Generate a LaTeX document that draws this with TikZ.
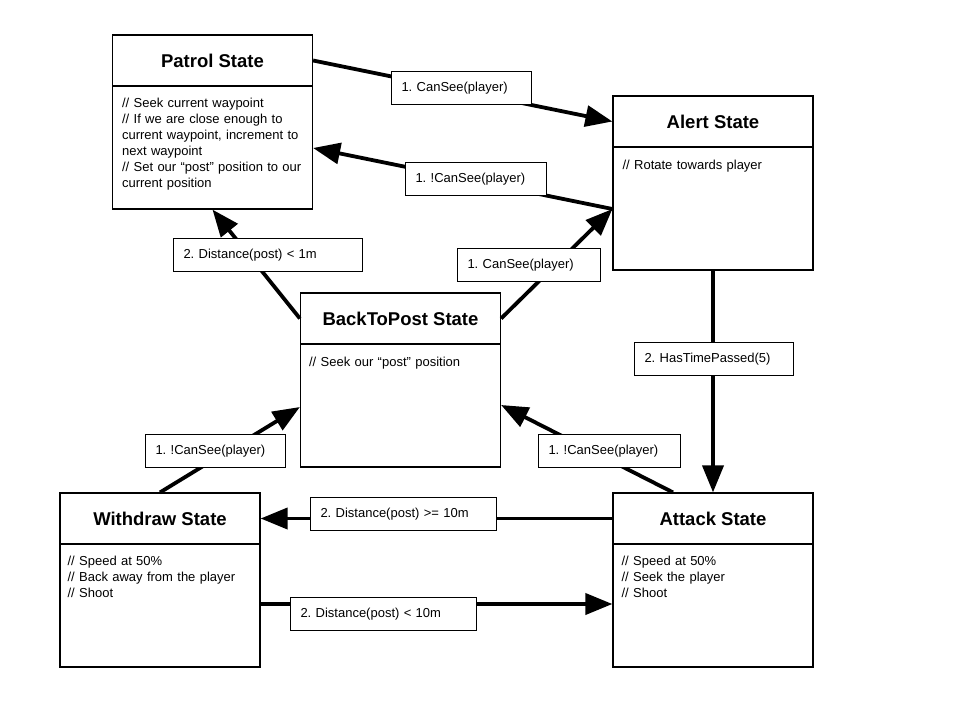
\documentclass[tikz,border=0pt]{standalone}
\usepackage{fontspec}
\setmainfont{Liberation Sans}
\usetikzlibrary{arrows.meta, positioning}
\frenchspacing

\begin{document}
\begin{tikzpicture}[
    x=1pt, y=-1pt,
    state/.style={rectangle, draw, line width=1.2pt, minimum width=200pt, minimum height=174pt, inner sep=0pt},
    head/.style={rectangle, draw, line width=1.2pt, minimum width=200pt, minimum height=51pt, inner sep=0pt, font=\fontsize{18.5}{20}\selectfont\bfseries},
    note/.style={anchor=north west, inner sep=0pt, text width=185pt, align=left, font=\fontsize{13}{16}\selectfont},
    cond/.style={rectangle, draw, fill=white, line width=1pt, anchor=north west, text width=#1, align=left, inner xsep=10pt, inner ysep=0pt, minimum height=33pt, font=\fontsize{13}{15}\selectfont},
    trans/.style={line width=3.8pt, -{Triangle[length=27pt, width=21pt]}}
]
\useasboundingbox (0,0) rectangle (960,720);

% states
\node[state] (patrol) at (212.5,122) {};
\node[head, anchor=north] (patrol-h) at (patrol.north) {Patrol State};
\node[note] (patrol-b) at ([shift={(10pt,-11pt)}]patrol-h.south west) {// Seek current waypoint\\// If we are close enough to\\current waypoint, increment to\\next waypoint\\// Set our “post” position to our\\current position};

\node[state] (alert) at (713,183) {};
\node[head, anchor=north] (alert-h) at (alert.north) {Alert State};
\node[note] (alert-b) at ([shift={(10pt,-12pt)}]alert-h.south west) {// Rotate towards player};

\node[state] (btp) at (400.5,380) {};
\node[head, anchor=north] (btp-h) at (btp.north) {BackToPost State};
\node[note] (btp-b) at ([shift={(9pt,-12pt)}]btp-h.south west) {// Seek our “post” position};

\node[state] (withdraw) at (160,580) {};
\node[head, anchor=north] (withdraw-h) at (withdraw.north) {Withdraw State};
\node[note] (withdraw-b) at ([shift={(8pt,-11pt)}]withdraw-h.south west) {// Speed at 50\%\\// Back away from the player\\// Shoot};

\node[state] (attack) at (713,580) {};
\node[head, anchor=north] (attack-h) at (attack.north) {Attack State};
\node[note] (attack-b) at ([shift={(9pt,-11pt)}]attack-h.south west) {// Speed at 50\%\\// Seek the player\\// Shoot};

% transitions
\draw[trans] (patrol-h.east) -- (alert-h.west);
\draw[trans] ([yshift=-26pt]alert.west) -- ([yshift=-26pt]patrol.east);
\draw[trans] (btp-h.east) -- ([yshift=-26pt]alert.west);
\draw[trans] (btp-h.west) -- (patrol.south);
\draw[trans] (alert.south) -- (attack.north);
\draw[trans] ([xshift=-40pt]attack.north) -- ([yshift=-25pt]btp.east);
\draw[trans] (withdraw.north) -- ([yshift=-27pt]btp.west);
\draw[trans] (attack-h.west) -- (withdraw-h.east);
\draw[trans] ([yshift=-24pt]withdraw.east) -- ([yshift=-24pt]attack.west);

% conditions
\node[cond=120pt] (c1) at (391,71) {1. CanSee(player)};
\node[cond=121pt] (c2) at (405,162) {1. !CanSee(player)};
\node[cond=123pt] (c3) at (457,248) {1. CanSee(player)};
\node[cond=169pt] (c4) at (173,238) {2. Distance(post) < 1m};
\node[cond=139pt] (c5) at (634,342) {2. HasTimePassed(5)};
\node[cond=122pt] (c6) at (538,434) {1. !CanSee(player)};
\node[cond=120pt] (c7) at (145,434) {1. !CanSee(player)};
\node[cond=166pt] (c8) at (310,497) {2. Distance(post) >= 10m};
\node[cond=166pt] (c9) at (290,597) {2. Distance(post) < 10m};

\end{tikzpicture}
\end{document}
